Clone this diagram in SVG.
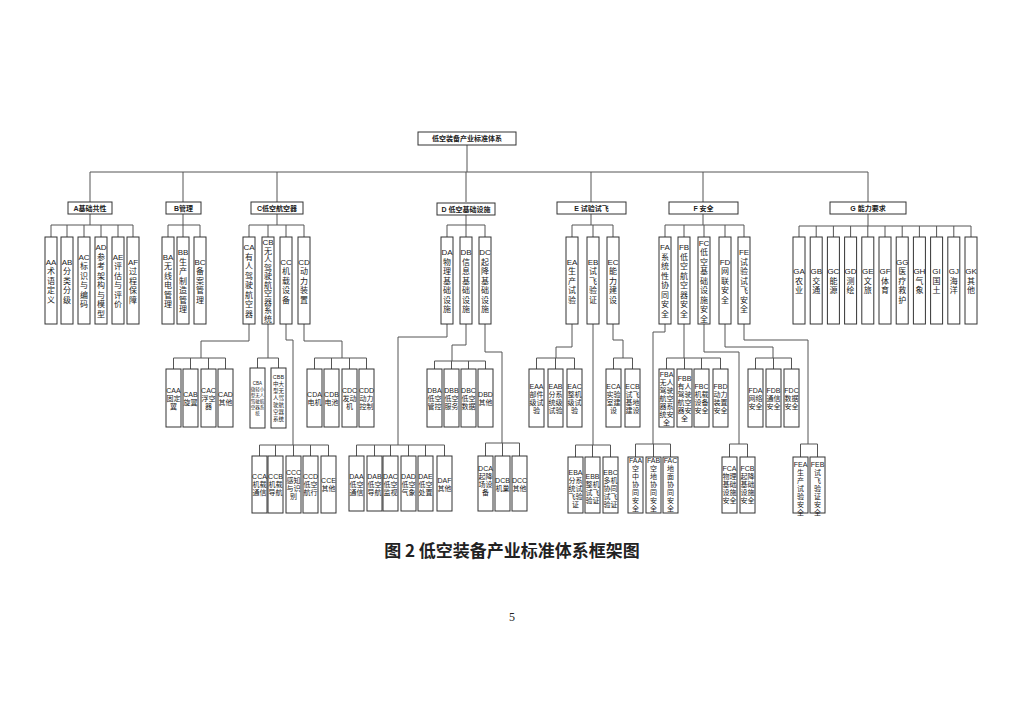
<svg xmlns="http://www.w3.org/2000/svg" width="1024" height="724" viewBox="0 0 1024 724">
<style>
rect{fill:#fff;stroke:#333;stroke-width:1}
text{font-family:"Liberation Sans","Noto Sans CJK SC",sans-serif;text-anchor:middle;fill:#222}
.h{font-size:7px;font-weight:bold}
.m{font-size:8px}
.s{font-size:7px}
#conn path{fill:none;stroke:#555;stroke-width:1}
</style>
<rect x="0" y="0" width="1024" height="724" style="fill:#fff;stroke:none"/>
<g id="conn">
<path d="M467 145V172M90 172H868M90 172V202M183 172V202M277 172V202M466 172V202M591 172V202M703 172V202M868 172V202"/>
<path d="M90 214V225M51 225H133M51 225V237M67 225V237M84 225V237M101 225V237M118 225V237M133 225V237"/>
<path d="M183 214V225M168 225H200M168 225V237M183 225V237M200 225V237"/>
<path d="M277 214V225M249 225H304M249 225V237M268 225V237M286 225V237M304 225V237"/>
<path d="M466 215V225M447 225H485M447 225V237M466 225V237M485 225V237"/>
<path d="M591 214V225M572 225H613M572 225V237M593 225V237M613 225V237"/>
<path d="M703 214V225M665 225H744M665 225V237M684 225V237M704 225V237M725 225V237M744 225V237"/>
<path d="M868 214V226M799 226H971M799 226V237M816.2 226V237M833.4 226V237M850.6 226V237M867.8 226V237M885 226V237M902.2 226V237M919.4 226V237M936.6 226V237M953.8 226V237M971 226V237"/>
<path d="M249 324V341H201V358M173.5 358H225.5M173.5 358V369M190.5 358V369M208.5 358V369M225.5 358V369"/>
<path d="M268 324V358M257.5 358H278.5M257.5 358V368M278.5 358V368"/>
<path d="M286 324V340H293V445M259.5 445H328.5M259.5 445V456M275.5 445V456M293.5 445V456M310.5 445V456M328.5 445V456"/>
<path d="M304 324V341H342V358M314.5 358H366.5M314.5 358V369M331.5 358V369M349.5 358V369M366.5 358V369"/>
<path d="M447 324V337H398V445M356.5 445H444.5M356.5 445V456M374.5 445V456M390.5 445V456M408.5 445V456M425.5 445V456M444.5 445V456"/>
<path d="M466 324V345H452V361M434.5 361H485.5M434.5 361V369M451.5 361V369M468.5 361V369M485.5 361V369"/>
<path d="M485 324V352H502V443M485.5 443H519.5M485.5 443V456M502.5 443V456M519.5 443V456"/>
<path d="M572 324V347H556V358M536.5 358H574.5M536.5 358V369M555.5 358V369M574.5 358V369"/>
<path d="M593 324V445M575.5 445H610.5M575.5 445V457M592.5 445V457M610.5 445V457"/>
<path d="M613 324V340H623V358M613.5 358H632.5M613.5 358V369M632.5 358V369"/>
<path d="M665 324V332H653V444M635.5 444H670.5M635.5 444V457M653.5 444V457M670.5 444V457"/>
<path d="M684 324V358M666.5 358H720.5M666.5 358V369M684.5 358V369M701.5 358V369M720.5 358V369"/>
<path d="M704 324V352H739V444M729.5 444H747.5M729.5 444V457M747.5 444V457"/>
<path d="M725 324V347H773V358M755.5 358H791.5M755.5 358V369M773.5 358V369M791.5 358V369"/>
<path d="M744 324V340H808V444M800.5 444H817.5M800.5 444V457M817.5 444V457"/>
</g>
<g id="root"><rect x="418" y="132" width="98" height="13"/><text class="h" x="467" y="141">低空装备产业标准体系</text></g>
<g id="A"><rect x="68" y="202" width="44" height="12"/><text class="h" x="90" y="210.5">A基础共性</text></g>
<g id="B"><rect x="166" y="202" width="35" height="12"/><text class="h" x="183.5" y="210.5">B管理</text></g>
<g id="C"><rect x="251" y="202" width="52" height="12"/><text class="h" x="277" y="210.5">C低空航空器</text></g>
<g id="D"><rect x="437" y="203" width="58" height="12"/><text class="h" x="466" y="211.5">D 低空基础设施</text></g>
<g id="E"><rect x="557" y="202" width="69" height="12"/><text class="h" x="591.5" y="210.5">E 试验试飞</text></g>
<g id="F"><rect x="669" y="202" width="69" height="12"/><text class="h" x="703.5" y="210.5">F 安全</text></g>
<g id="G"><rect x="830" y="202" width="76" height="12"/><text class="h" x="868" y="210.5">G 能力要求</text></g>

<g id="AA"><rect x="45" y="237" width="12" height="87"/><text class="m" x="51" y="264.5">AA<tspan x="51" dy="9.5">术</tspan><tspan x="51" dy="9.5">语</tspan><tspan x="51" dy="9.5">定</tspan><tspan x="51" dy="9.5">义</tspan></text></g>
<g id="AB"><rect x="61" y="237" width="12" height="87"/><text class="m" x="67" y="264.5">AB<tspan x="67" dy="9.5">分</tspan><tspan x="67" dy="9.5">类</tspan><tspan x="67" dy="9.5">分</tspan><tspan x="67" dy="9.5">级</tspan></text></g>
<g id="AC"><rect x="78" y="237" width="12" height="87"/><text class="m" x="84" y="259.75">AC<tspan x="84" dy="9.5">标</tspan><tspan x="84" dy="9.5">识</tspan><tspan x="84" dy="9.5">与</tspan><tspan x="84" dy="9.5">编</tspan><tspan x="84" dy="9.5">码</tspan></text></g>
<g id="AD"><rect x="95" y="237" width="12" height="87"/><text class="m" x="101" y="250.25">AD<tspan x="101" dy="9.5">参</tspan><tspan x="101" dy="9.5">考</tspan><tspan x="101" dy="9.5">架</tspan><tspan x="101" dy="9.5">构</tspan><tspan x="101" dy="9.5">与</tspan><tspan x="101" dy="9.5">模</tspan><tspan x="101" dy="9.5">型</tspan></text></g>
<g id="AE"><rect x="112" y="237" width="12" height="87"/><text class="m" x="118" y="259.75">AE<tspan x="118" dy="9.5">评</tspan><tspan x="118" dy="9.5">估</tspan><tspan x="118" dy="9.5">与</tspan><tspan x="118" dy="9.5">评</tspan><tspan x="118" dy="9.5">价</tspan></text></g>
<g id="AF"><rect x="127" y="237" width="12" height="87"/><text class="m" x="133" y="264.5">AF<tspan x="133" dy="9.5">过</tspan><tspan x="133" dy="9.5">程</tspan><tspan x="133" dy="9.5">保</tspan><tspan x="133" dy="9.5">障</tspan></text></g>
<g id="BA"><rect x="162" y="237" width="12" height="87"/><text class="m" x="168" y="259.75">BA<tspan x="168" dy="9.5">无</tspan><tspan x="168" dy="9.5">线</tspan><tspan x="168" dy="9.5">电</tspan><tspan x="168" dy="9.5">管</tspan><tspan x="168" dy="9.5">理</tspan></text></g>
<g id="BB"><rect x="177" y="237" width="12" height="87"/><text class="m" x="183" y="255">BB<tspan x="183" dy="9.5">生</tspan><tspan x="183" dy="9.5">产</tspan><tspan x="183" dy="9.5">制</tspan><tspan x="183" dy="9.5">造</tspan><tspan x="183" dy="9.5">管</tspan><tspan x="183" dy="9.5">理</tspan></text></g>
<g id="BC"><rect x="194" y="237" width="12" height="87"/><text class="m" x="200" y="264.5">BC<tspan x="200" dy="9.5">备</tspan><tspan x="200" dy="9.5">案</tspan><tspan x="200" dy="9.5">管</tspan><tspan x="200" dy="9.5">理</tspan></text></g>
<g id="CA"><rect x="243" y="237" width="12" height="87"/><text class="m" x="249" y="250.25">CA<tspan x="249" dy="9.5">有</tspan><tspan x="249" dy="9.5">人</tspan><tspan x="249" dy="9.5">驾</tspan><tspan x="249" dy="9.5">驶</tspan><tspan x="249" dy="9.5">航</tspan><tspan x="249" dy="9.5">空</tspan><tspan x="249" dy="9.5">器</tspan></text></g>
<g id="CB"><rect x="262" y="237" width="12" height="87"/><text class="m" x="268" y="245.25">CB<tspan x="268" dy="8.5">无</tspan><tspan x="268" dy="8.5">人</tspan><tspan x="268" dy="8.5">驾</tspan><tspan x="268" dy="8.5">驶</tspan><tspan x="268" dy="8.5">航</tspan><tspan x="268" dy="8.5">空</tspan><tspan x="268" dy="8.5">器</tspan><tspan x="268" dy="8.5">系</tspan><tspan x="268" dy="8.5">统</tspan></text></g>
<g id="CC"><rect x="280" y="237" width="12" height="87"/><text class="m" x="286" y="264.5">CC<tspan x="286" dy="9.5">机</tspan><tspan x="286" dy="9.5">载</tspan><tspan x="286" dy="9.5">设</tspan><tspan x="286" dy="9.5">备</tspan></text></g>
<g id="CD"><rect x="298" y="237" width="12" height="87"/><text class="m" x="304" y="264.5">CD<tspan x="304" dy="9.5">动</tspan><tspan x="304" dy="9.5">力</tspan><tspan x="304" dy="9.5">装</tspan><tspan x="304" dy="9.5">置</tspan></text></g>
<g id="DA"><rect x="441" y="237" width="12" height="87"/><text class="m" x="447" y="255">DA<tspan x="447" dy="9.5">物</tspan><tspan x="447" dy="9.5">理</tspan><tspan x="447" dy="9.5">基</tspan><tspan x="447" dy="9.5">础</tspan><tspan x="447" dy="9.5">设</tspan><tspan x="447" dy="9.5">施</tspan></text></g>
<g id="DB"><rect x="460" y="237" width="12" height="87"/><text class="m" x="466" y="255">DB<tspan x="466" dy="9.5">信</tspan><tspan x="466" dy="9.5">息</tspan><tspan x="466" dy="9.5">基</tspan><tspan x="466" dy="9.5">础</tspan><tspan x="466" dy="9.5">设</tspan><tspan x="466" dy="9.5">施</tspan></text></g>
<g id="DC"><rect x="479" y="237" width="12" height="87"/><text class="m" x="485" y="255">DC<tspan x="485" dy="9.5">起</tspan><tspan x="485" dy="9.5">降</tspan><tspan x="485" dy="9.5">基</tspan><tspan x="485" dy="9.5">础</tspan><tspan x="485" dy="9.5">设</tspan><tspan x="485" dy="9.5">施</tspan></text></g>
<g id="EA"><rect x="566" y="237" width="12" height="87"/><text class="m" x="572" y="264.5">EA<tspan x="572" dy="9.5">生</tspan><tspan x="572" dy="9.5">产</tspan><tspan x="572" dy="9.5">试</tspan><tspan x="572" dy="9.5">验</tspan></text></g>
<g id="EB"><rect x="587" y="237" width="12" height="87"/><text class="m" x="593" y="264.5">EB<tspan x="593" dy="9.5">试</tspan><tspan x="593" dy="9.5">飞</tspan><tspan x="593" dy="9.5">验</tspan><tspan x="593" dy="9.5">证</tspan></text></g>
<g id="EC"><rect x="607" y="237" width="12" height="87"/><text class="m" x="613" y="264.5">EC<tspan x="613" dy="9.5">能</tspan><tspan x="613" dy="9.5">力</tspan><tspan x="613" dy="9.5">建</tspan><tspan x="613" dy="9.5">设</tspan></text></g>
<g id="FA"><rect x="659" y="237" width="12" height="87"/><text class="m" x="665" y="250.25">FA<tspan x="665" dy="9.5">系</tspan><tspan x="665" dy="9.5">统</tspan><tspan x="665" dy="9.5">性</tspan><tspan x="665" dy="9.5">协</tspan><tspan x="665" dy="9.5">同</tspan><tspan x="665" dy="9.5">安</tspan><tspan x="665" dy="9.5">全</tspan></text></g>
<g id="FB"><rect x="678" y="237" width="12" height="87"/><text class="m" x="684" y="250.25">FB<tspan x="684" dy="9.5">低</tspan><tspan x="684" dy="9.5">空</tspan><tspan x="684" dy="9.5">航</tspan><tspan x="684" dy="9.5">空</tspan><tspan x="684" dy="9.5">器</tspan><tspan x="684" dy="9.5">安</tspan><tspan x="684" dy="9.5">全</tspan></text></g>
<g id="FC"><rect x="698" y="237" width="12" height="87"/><text class="m" x="704" y="245.5">FC<tspan x="704" dy="9.5">低</tspan><tspan x="704" dy="9.5">空</tspan><tspan x="704" dy="9.5">基</tspan><tspan x="704" dy="9.5">础</tspan><tspan x="704" dy="9.5">设</tspan><tspan x="704" dy="9.5">施</tspan><tspan x="704" dy="9.5">安</tspan><tspan x="704" dy="9.5">全</tspan></text></g>
<g id="FD"><rect x="719" y="237" width="12" height="87"/><text class="m" x="725" y="264.5">FD<tspan x="725" dy="9.5">网</tspan><tspan x="725" dy="9.5">联</tspan><tspan x="725" dy="9.5">安</tspan><tspan x="725" dy="9.5">全</tspan></text></g>
<g id="FE"><rect x="738" y="237" width="12" height="87"/><text class="m" x="744" y="255">FE<tspan x="744" dy="9.5">试</tspan><tspan x="744" dy="9.5">验</tspan><tspan x="744" dy="9.5">试</tspan><tspan x="744" dy="9.5">飞</tspan><tspan x="744" dy="9.5">安</tspan><tspan x="744" dy="9.5">全</tspan></text></g>
<g id="GA"><rect x="793" y="237" width="12" height="87"/><text class="m" x="799" y="274">GA<tspan x="799" dy="9.5">农</tspan><tspan x="799" dy="9.5">业</tspan></text></g>
<g id="GB"><rect x="810.2" y="237" width="12" height="87"/><text class="m" x="816.2" y="274">GB<tspan x="816.2" dy="9.5">交</tspan><tspan x="816.2" dy="9.5">通</tspan></text></g>
<g id="GC"><rect x="827.4" y="237" width="12" height="87"/><text class="m" x="833.4" y="274">GC<tspan x="833.4" dy="9.5">能</tspan><tspan x="833.4" dy="9.5">源</tspan></text></g>
<g id="GD"><rect x="844.6" y="237" width="12" height="87"/><text class="m" x="850.6" y="274">GD<tspan x="850.6" dy="9.5">测</tspan><tspan x="850.6" dy="9.5">绘</tspan></text></g>
<g id="GE"><rect x="861.8" y="237" width="12" height="87"/><text class="m" x="867.8" y="274">GE<tspan x="867.8" dy="9.5">文</tspan><tspan x="867.8" dy="9.5">旅</tspan></text></g>
<g id="GF"><rect x="879" y="237" width="12" height="87"/><text class="m" x="885" y="274">GF<tspan x="885" dy="9.5">体</tspan><tspan x="885" dy="9.5">育</tspan></text></g>
<g id="GG"><rect x="896.2" y="237" width="12" height="87"/><text class="m" x="902.2" y="264.5">GG<tspan x="902.2" dy="9.5">医</tspan><tspan x="902.2" dy="9.5">疗</tspan><tspan x="902.2" dy="9.5">救</tspan><tspan x="902.2" dy="9.5">护</tspan></text></g>
<g id="GH"><rect x="913.4" y="237" width="12" height="87"/><text class="m" x="919.4" y="274">GH<tspan x="919.4" dy="9.5">气</tspan><tspan x="919.4" dy="9.5">象</tspan></text></g>
<g id="GI"><rect x="930.6" y="237" width="12" height="87"/><text class="m" x="936.6" y="274">GI<tspan x="936.6" dy="9.5">国</tspan><tspan x="936.6" dy="9.5">土</tspan></text></g>
<g id="GJ"><rect x="947.8" y="237" width="12" height="87"/><text class="m" x="953.8" y="274">GJ<tspan x="953.8" dy="9.5">海</tspan><tspan x="953.8" dy="9.5">洋</tspan></text></g>
<g id="GK"><rect x="965" y="237" width="12" height="87"/><text class="m" x="971" y="274">GK<tspan x="971" dy="9.5">其</tspan><tspan x="971" dy="9.5">他</tspan></text></g>

<g id="CAA"><rect x="166" y="369" width="15" height="58"/><text class="s" x="173.5" y="392.5">CAA<tspan x="173.5" dy="8">固定</tspan><tspan x="173.5" dy="8">翼</tspan></text></g>
<g id="CAB"><rect x="183" y="369" width="15" height="58"/><text class="s" x="190.5" y="396.5">CAB<tspan x="190.5" dy="8">旋翼</tspan></text></g>
<g id="CAC"><rect x="201" y="369" width="15" height="58"/><text class="s" x="208.5" y="392.5">CAC<tspan x="208.5" dy="8">浮空</tspan><tspan x="208.5" dy="8">器</tspan></text></g>
<g id="CAD"><rect x="218" y="369" width="15" height="58"/><text class="s" x="225.5" y="396.5">CAD<tspan x="225.5" dy="8">其他</tspan></text></g>
<g id="CBA"><rect x="250" y="368" width="15" height="60"/><text style="font-size:4.5px" x="257.5" y="384.5">CBA<tspan x="257.5" dy="6">微轻小</tspan><tspan x="257.5" dy="6">型无人</tspan><tspan x="257.5" dy="6">驾驶航</tspan><tspan x="257.5" dy="6">空器系</tspan><tspan x="257.5" dy="6">统</tspan></text></g>
<g id="CBB"><rect x="271" y="368" width="15" height="60"/><text style="font-size:5.5px" x="278.5" y="379">CBB<tspan x="278.5" dy="7">中大</tspan><tspan x="278.5" dy="7">型无</tspan><tspan x="278.5" dy="7">人驾</tspan><tspan x="278.5" dy="7">驶航</tspan><tspan x="278.5" dy="7">空器</tspan><tspan x="278.5" dy="7">系统</tspan></text></g>
<g id="CDA"><rect x="307" y="369" width="15" height="58"/><text class="s" x="314.5" y="396.5">CDA<tspan x="314.5" dy="8">电机</tspan></text></g>
<g id="CDB"><rect x="324" y="369" width="15" height="58"/><text class="s" x="331.5" y="396.5">CDB<tspan x="331.5" dy="8">电池</tspan></text></g>
<g id="CDC"><rect x="342" y="369" width="15" height="58"/><text class="s" x="349.5" y="392.5">CDC<tspan x="349.5" dy="8">发动</tspan><tspan x="349.5" dy="8">机</tspan></text></g>
<g id="CDD"><rect x="359" y="369" width="15" height="58"/><text class="s" x="366.5" y="392.5">CDD<tspan x="366.5" dy="8">动力</tspan><tspan x="366.5" dy="8">控制</tspan></text></g>
<g id="DBA"><rect x="427" y="369" width="15" height="58"/><text class="s" x="434.5" y="392.5">DBA<tspan x="434.5" dy="8">低空</tspan><tspan x="434.5" dy="8">管控</tspan></text></g>
<g id="DBB"><rect x="444" y="369" width="15" height="58"/><text class="s" x="451.5" y="392.5">DBB<tspan x="451.5" dy="8">低空</tspan><tspan x="451.5" dy="8">服务</tspan></text></g>
<g id="DBC"><rect x="461" y="369" width="15" height="58"/><text class="s" x="468.5" y="392.5">DBC<tspan x="468.5" dy="8">低空</tspan><tspan x="468.5" dy="8">数据</tspan></text></g>
<g id="DBD"><rect x="478" y="369" width="15" height="58"/><text class="s" x="485.5" y="396.5">DBD<tspan x="485.5" dy="8">其他</tspan></text></g>
<g id="EAA"><rect x="529" y="369" width="15" height="58"/><text class="s" x="536.5" y="388.5">EAA<tspan x="536.5" dy="8">部件</tspan><tspan x="536.5" dy="8">级试</tspan><tspan x="536.5" dy="8">验</tspan></text></g>
<g id="EAB"><rect x="548" y="369" width="15" height="58"/><text class="s" x="555.5" y="388.5">EAB<tspan x="555.5" dy="8">分系</tspan><tspan x="555.5" dy="8">统级</tspan><tspan x="555.5" dy="8">试验</tspan></text></g>
<g id="EAC"><rect x="567" y="369" width="15" height="58"/><text class="s" x="574.5" y="388.5">EAC<tspan x="574.5" dy="8">整机</tspan><tspan x="574.5" dy="8">级试</tspan><tspan x="574.5" dy="8">验</tspan></text></g>
<g id="ECA"><rect x="606" y="369" width="15" height="58"/><text class="s" x="613.5" y="388.5">ECA<tspan x="613.5" dy="8">实验</tspan><tspan x="613.5" dy="8">室建</tspan><tspan x="613.5" dy="8">设</tspan></text></g>
<g id="ECB"><rect x="625" y="369" width="15" height="58"/><text class="s" x="632.5" y="388.5">ECB<tspan x="632.5" dy="8">试飞</tspan><tspan x="632.5" dy="8">基地</tspan><tspan x="632.5" dy="8">建设</tspan></text></g>
<g id="FBA"><rect x="659" y="369" width="15" height="58"/><text class="s" x="666.5" y="376.5">FBA<tspan x="666.5" dy="8">无人</tspan><tspan x="666.5" dy="8">驾驶</tspan><tspan x="666.5" dy="8">航空</tspan><tspan x="666.5" dy="8">器系</tspan><tspan x="666.5" dy="8">统安</tspan><tspan x="666.5" dy="8">全</tspan></text></g>
<g id="FBB"><rect x="677" y="369" width="15" height="58"/><text class="s" x="684.5" y="380.5">FBB<tspan x="684.5" dy="8">有人</tspan><tspan x="684.5" dy="8">驾驶</tspan><tspan x="684.5" dy="8">航空</tspan><tspan x="684.5" dy="8">器安</tspan><tspan x="684.5" dy="8">全</tspan></text></g>
<g id="FBC"><rect x="694" y="369" width="15" height="58"/><text class="s" x="701.5" y="388.5">FBC<tspan x="701.5" dy="8">机载</tspan><tspan x="701.5" dy="8">设备</tspan><tspan x="701.5" dy="8">安全</tspan></text></g>
<g id="FBD"><rect x="713" y="369" width="15" height="58"/><text class="s" x="720.5" y="388.5">FBD<tspan x="720.5" dy="8">动力</tspan><tspan x="720.5" dy="8">装置</tspan><tspan x="720.5" dy="8">安全</tspan></text></g>
<g id="FDA"><rect x="748" y="369" width="15" height="58"/><text class="s" x="755.5" y="392.5">FDA<tspan x="755.5" dy="8">网络</tspan><tspan x="755.5" dy="8">安全</tspan></text></g>
<g id="FDB"><rect x="766" y="369" width="15" height="58"/><text class="s" x="773.5" y="392.5">FDB<tspan x="773.5" dy="8">通信</tspan><tspan x="773.5" dy="8">安全</tspan></text></g>
<g id="FDC"><rect x="784" y="369" width="15" height="58"/><text class="s" x="791.5" y="392.5">FDC<tspan x="791.5" dy="8">数据</tspan><tspan x="791.5" dy="8">安全</tspan></text></g>

<g id="CCA"><rect x="252" y="456" width="15" height="57"/><text class="s" x="259.5" y="479">CCA<tspan x="259.5" dy="8">机载</tspan><tspan x="259.5" dy="8">通信</tspan></text></g>
<g id="CCB"><rect x="268" y="456" width="15" height="57"/><text class="s" x="275.5" y="479">CCB<tspan x="275.5" dy="8">机载</tspan><tspan x="275.5" dy="8">导航</tspan></text></g>
<g id="CCC"><rect x="286" y="456" width="15" height="57"/><text class="s" x="293.5" y="475">CCC<tspan x="293.5" dy="8">感知</tspan><tspan x="293.5" dy="8">与识</tspan><tspan x="293.5" dy="8">别</tspan></text></g>
<g id="CCD"><rect x="303" y="456" width="15" height="57"/><text class="s" x="310.5" y="479">CCD<tspan x="310.5" dy="8">低空</tspan><tspan x="310.5" dy="8">航行</tspan></text></g>
<g id="CCE"><rect x="321" y="456" width="15" height="57"/><text class="s" x="328.5" y="483">CCE<tspan x="328.5" dy="8">其他</tspan></text></g>
<g id="DAA"><rect x="349" y="456" width="15" height="55"/><text class="s" x="356.5" y="479">DAA<tspan x="356.5" dy="8">低空</tspan><tspan x="356.5" dy="8">通信</tspan></text></g>
<g id="DAB"><rect x="367" y="456" width="15" height="55"/><text class="s" x="374.5" y="479">DAB<tspan x="374.5" dy="8">低空</tspan><tspan x="374.5" dy="8">导航</tspan></text></g>
<g id="DAC"><rect x="383" y="456" width="15" height="55"/><text class="s" x="390.5" y="479">DAC<tspan x="390.5" dy="8">低空</tspan><tspan x="390.5" dy="8">监视</tspan></text></g>
<g id="DAD"><rect x="401" y="456" width="15" height="55"/><text class="s" x="408.5" y="479">DAD<tspan x="408.5" dy="8">低空</tspan><tspan x="408.5" dy="8">气象</tspan></text></g>
<g id="DAE"><rect x="418" y="456" width="15" height="55"/><text class="s" x="425.5" y="479">DAE<tspan x="425.5" dy="8">低空</tspan><tspan x="425.5" dy="8">处置</tspan></text></g>
<g id="DAF"><rect x="437" y="456" width="15" height="55"/><text class="s" x="444.5" y="483">DAF<tspan x="444.5" dy="8">其他</tspan></text></g>
<g id="DCA"><rect x="478" y="456" width="15" height="55"/><text class="s" x="485.5" y="471">DCA<tspan x="485.5" dy="8">起降</tspan><tspan x="485.5" dy="8">场设</tspan><tspan x="485.5" dy="8">备</tspan></text></g>
<g id="DCB"><rect x="495" y="456" width="15" height="55"/><text class="s" x="502.5" y="483">DCB<tspan x="502.5" dy="8">机巢</tspan></text></g>
<g id="DCC"><rect x="512" y="456" width="15" height="55"/><text class="s" x="519.5" y="483">DCC<tspan x="519.5" dy="8">其他</tspan></text></g>
<g id="EBA"><rect x="568" y="457" width="15" height="56"/><text class="s" x="575.5" y="475">EBA<tspan x="575.5" dy="8">分系</tspan><tspan x="575.5" dy="8">统试</tspan><tspan x="575.5" dy="8">飞验</tspan><tspan x="575.5" dy="8">证</tspan></text></g>
<g id="EBB"><rect x="585" y="457" width="15" height="56"/><text class="s" x="592.5" y="479">EBB<tspan x="592.5" dy="8">整机</tspan><tspan x="592.5" dy="8">试飞</tspan><tspan x="592.5" dy="8">验证</tspan></text></g>
<g id="EBC"><rect x="603" y="457" width="15" height="56"/><text class="s" x="610.5" y="475">EBC<tspan x="610.5" dy="8">多机</tspan><tspan x="610.5" dy="8">协同</tspan><tspan x="610.5" dy="8">试飞</tspan><tspan x="610.5" dy="8">验证</tspan></text></g>
<g id="FAA"><rect x="628" y="457" width="15" height="56"/><text class="s" x="635.5" y="463">FAA<tspan x="635.5" dy="8">空</tspan><tspan x="635.5" dy="8">中</tspan><tspan x="635.5" dy="8">协</tspan><tspan x="635.5" dy="8">同</tspan><tspan x="635.5" dy="8">安</tspan><tspan x="635.5" dy="8">全</tspan></text></g>
<g id="FAB"><rect x="646" y="457" width="15" height="56"/><text class="s" x="653.5" y="463">FAB<tspan x="653.5" dy="8">空</tspan><tspan x="653.5" dy="8">地</tspan><tspan x="653.5" dy="8">协</tspan><tspan x="653.5" dy="8">同</tspan><tspan x="653.5" dy="8">安</tspan><tspan x="653.5" dy="8">全</tspan></text></g>
<g id="FAC"><rect x="663" y="457" width="15" height="56"/><text class="s" x="670.5" y="463">FAC<tspan x="670.5" dy="8">地</tspan><tspan x="670.5" dy="8">面</tspan><tspan x="670.5" dy="8">协</tspan><tspan x="670.5" dy="8">同</tspan><tspan x="670.5" dy="8">安</tspan><tspan x="670.5" dy="8">全</tspan></text></g>
<g id="FCA"><rect x="722" y="457" width="15" height="56"/><text class="s" x="729.5" y="471">FCA<tspan x="729.5" dy="8">物理</tspan><tspan x="729.5" dy="8">基础</tspan><tspan x="729.5" dy="8">设施</tspan><tspan x="729.5" dy="8">安全</tspan></text></g>
<g id="FCB"><rect x="740" y="457" width="15" height="56"/><text class="s" x="747.5" y="471">FCB<tspan x="747.5" dy="8">起降</tspan><tspan x="747.5" dy="8">基础</tspan><tspan x="747.5" dy="8">设施</tspan><tspan x="747.5" dy="8">安全</tspan></text></g>
<g id="FEA"><rect x="793" y="457" width="15" height="56"/><text class="s" x="800.5" y="467">FEA<tspan x="800.5" dy="8">生</tspan><tspan x="800.5" dy="8">产</tspan><tspan x="800.5" dy="8">试</tspan><tspan x="800.5" dy="8">验</tspan><tspan x="800.5" dy="8">安</tspan><tspan x="800.5" dy="8">全</tspan></text></g>
<g id="FEB"><rect x="810" y="457" width="15" height="56"/><text class="s" x="817.5" y="467">FEB<tspan x="817.5" dy="8">试</tspan><tspan x="817.5" dy="8">飞</tspan><tspan x="817.5" dy="8">验</tspan><tspan x="817.5" dy="8">证</tspan><tspan x="817.5" dy="8">安</tspan><tspan x="817.5" dy="8">全</tspan></text></g>

<text x="512" y="557" style="font-size:17px;font-weight:bold;font-family:'Noto Sans CJK SC',sans-serif">图 2 低空装备产业标准体系框架图</text>
<text x="512" y="621" style="font-size:12px;font-family:'Liberation Serif',serif">5</text>
</svg>
